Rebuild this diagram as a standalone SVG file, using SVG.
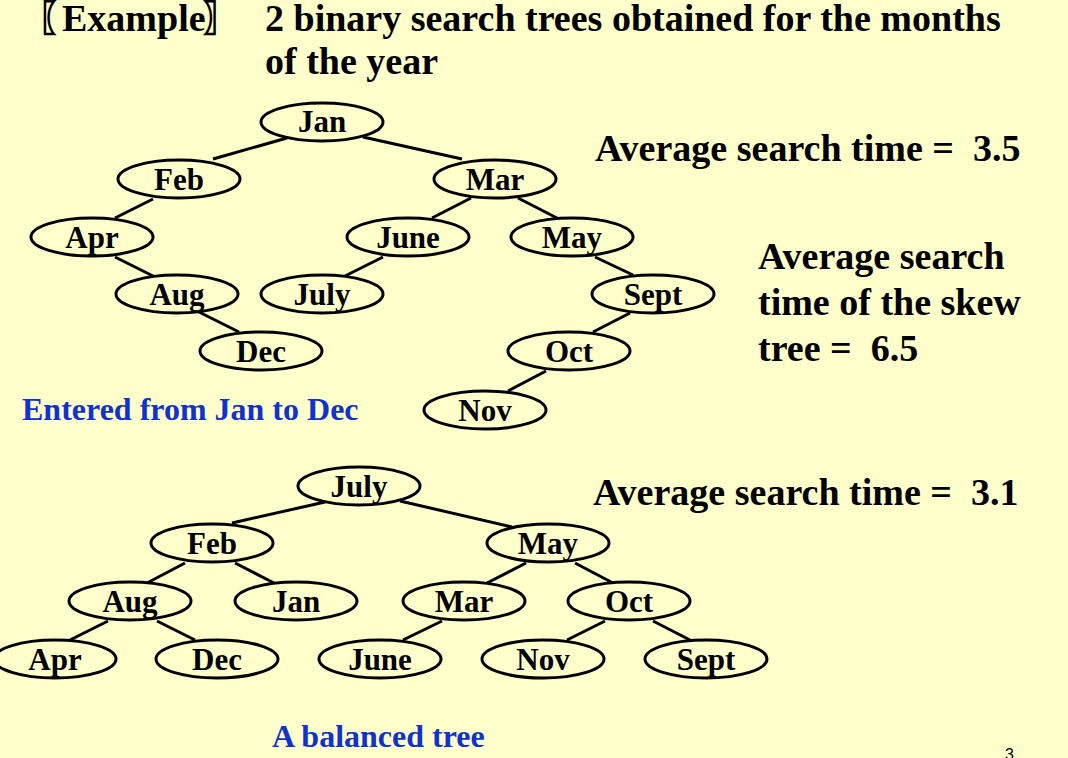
<svg xmlns="http://www.w3.org/2000/svg" width="1068" height="758" viewBox="0 0 1068 758">
<style>
.bg{fill:#FFFFCC}
.n ellipse{fill:none;stroke:#000;stroke-width:3}
.n text{font-family:"Liberation Serif","Times New Roman",serif;font-weight:bold;font-size:31px;text-anchor:middle;fill:#000}
.e line{stroke:#000;stroke-width:3}
.t{font-family:"Liberation Serif","Times New Roman",serif;font-weight:bold;fill:#000}
.big{font-size:38px}
.mid{font-size:38px}
.blue{font-size:32px;fill:#1133CC}
</style>
<rect class="bg" x="0" y="0" width="1068" height="758"/>
<text class="t big" x="37" y="31">〖<tspan x="62">Example</tspan><tspan x="203">〗</tspan></text>
<text class="t big" x="265" y="31">2 binary search trees obtained for the months</text>
<text class="t big" x="265" y="74">of the year</text>
<text class="t mid" x="595" y="161" xml:space="preserve">Average search time =  3.5</text>
<text class="t mid" x="758" y="269">Average search</text>
<text class="t mid" x="758" y="315">time of the skew</text>
<text class="t mid" x="758" y="361" xml:space="preserve">tree =  6.5</text>
<text class="t mid" x="593" y="505" xml:space="preserve">Average search time =  3.1</text>
<text class="t blue" x="22" y="420">Entered from Jan to Dec</text>
<text class="t blue" x="272" y="747">A balanced tree</text>
<text x="1005" y="760" font-family="Liberation Sans, sans-serif" font-size="16" fill="#000">3</text>
<g id="connectors" class="e">
<line x1="287" y1="138" x2="213" y2="159"/>
<line x1="363" y1="137" x2="462" y2="159"/>
<line x1="153" y1="199" x2="115" y2="218"/>
<line x1="115" y1="257" x2="153" y2="276"/>
<line x1="199" y1="312" x2="239" y2="332"/>
<line x1="471" y1="198" x2="432" y2="218"/>
<line x1="518" y1="198" x2="557" y2="218"/>
<line x1="383" y1="257" x2="345" y2="276"/>
<line x1="595" y1="257" x2="633" y2="275"/>
<line x1="630" y1="313" x2="593" y2="332"/>
<line x1="546" y1="371" x2="508" y2="391"/>
<line x1="325" y1="502" x2="232" y2="523"/>
<line x1="400" y1="501" x2="512" y2="527"/>
<line x1="185" y1="563" x2="147" y2="583"/>
<line x1="235" y1="563" x2="274" y2="583"/>
<line x1="108" y1="621" x2="70" y2="640"/>
<line x1="157" y1="621" x2="195" y2="640"/>
<line x1="442" y1="621" x2="403" y2="640"/>
<line x1="526" y1="563" x2="487" y2="583"/>
<line x1="575" y1="563" x2="613" y2="583"/>
<line x1="605" y1="621" x2="567" y2="640"/>
<line x1="653" y1="621" x2="690" y2="640"/>
</g>
<g id="t1-jan" class="n"><ellipse cx="322" cy="122" rx="61" ry="19"/><text x="322" y="132">Jan</text></g>
<g id="t1-feb" class="n"><ellipse cx="179" cy="179" rx="61" ry="19"/><text x="179" y="190">Feb</text></g>
<g id="t1-mar" class="n"><ellipse cx="495" cy="179" rx="61" ry="19"/><text x="495" y="190">Mar</text></g>
<g id="t1-apr" class="n"><ellipse cx="92" cy="237" rx="61" ry="19"/><text x="92" y="248">Apr</text></g>
<g id="t1-june" class="n"><ellipse cx="408" cy="237" rx="61" ry="19"/><text x="408" y="248">June</text></g>
<g id="t1-may" class="n"><ellipse cx="572" cy="237" rx="61" ry="19"/><text x="572" y="248">May</text></g>
<g id="t1-aug" class="n"><ellipse cx="177" cy="294" rx="61" ry="19"/><text x="177" y="305">Aug</text></g>
<g id="t1-july" class="n"><ellipse cx="322" cy="294" rx="61" ry="19"/><text x="322" y="305">July</text></g>
<g id="t1-sept" class="n"><ellipse cx="653" cy="294" rx="61" ry="19"/><text x="653" y="305">Sept</text></g>
<g id="t1-dec" class="n"><ellipse cx="261" cy="351" rx="61" ry="19"/><text x="261" y="362">Dec</text></g>
<g id="t1-oct" class="n"><ellipse cx="569" cy="351" rx="61" ry="19"/><text x="569" y="362">Oct</text></g>
<g id="t1-nov" class="n"><ellipse cx="485" cy="410" rx="61" ry="19"/><text x="485" y="421">Nov</text></g>
<g id="t2-july" class="n"><ellipse cx="359" cy="486" rx="61" ry="19"/><text x="359" y="497">July</text></g>
<g id="t2-feb" class="n"><ellipse cx="212" cy="543" rx="61" ry="19"/><text x="212" y="554">Feb</text></g>
<g id="t2-may" class="n"><ellipse cx="548" cy="543" rx="61" ry="19"/><text x="548" y="554">May</text></g>
<g id="t2-aug" class="n"><ellipse cx="130" cy="601" rx="61" ry="19"/><text x="130" y="612">Aug</text></g>
<g id="t2-jan" class="n"><ellipse cx="296" cy="601" rx="61" ry="19"/><text x="296" y="612">Jan</text></g>
<g id="t2-mar" class="n"><ellipse cx="464" cy="601" rx="61" ry="19"/><text x="464" y="612">Mar</text></g>
<g id="t2-oct" class="n"><ellipse cx="629" cy="601" rx="61" ry="19"/><text x="629" y="612">Oct</text></g>
<g id="t2-apr" class="n"><ellipse cx="55" cy="659" rx="61" ry="19"/><text x="55" y="670">Apr</text></g>
<g id="t2-dec" class="n"><ellipse cx="217" cy="659" rx="61" ry="19"/><text x="217" y="670">Dec</text></g>
<g id="t2-june" class="n"><ellipse cx="380" cy="659" rx="61" ry="19"/><text x="380" y="670">June</text></g>
<g id="t2-nov" class="n"><ellipse cx="543" cy="659" rx="61" ry="19"/><text x="543" y="670">Nov</text></g>
<g id="t2-sept" class="n"><ellipse cx="706" cy="659" rx="61" ry="19"/><text x="706" y="670">Sept</text></g>
</svg>
